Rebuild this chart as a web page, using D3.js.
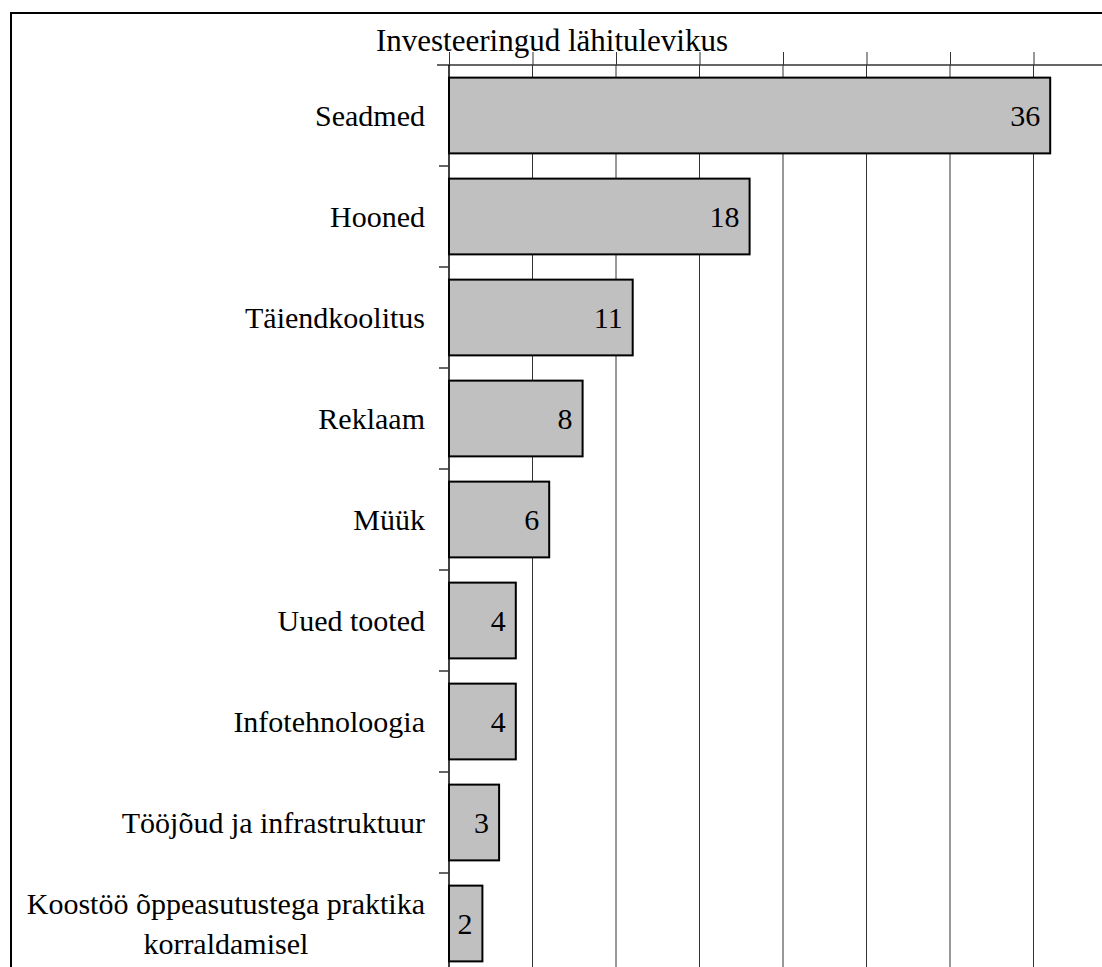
<!DOCTYPE html>
<html>
<head>
<meta charset="utf-8">
<script src="https://cdn.jsdelivr.net/npm/d3@7"></script>
<style>
  body { margin: 0; background: #fff; }
  svg { display: block; }
  svg text { font-family: 'Liberation Serif', Tinos, 'Times New Roman', 'DejaVu Serif', serif; fill: #000; }
</style>
</head>
<body>
<div id="chart"></div>
<script>
const categories = ["Seadmed", "Hooned", "Täiendkoolitus", "Reklaam", "Müük", "Uued tooted",
                    "Infotehnoloogia", "Tööjõud ja infrastruktuur",
                    "Koostöö õppeasutustega praktika|korraldamisel"];
const values = [36, 18, 11, 8, 6, 4, 4, 3, 2];
const tickValues = [0, 5, 10, 15, 20, 25, 30, 35, 40];
const chartTitle = "Investeeringud lähitulevikus";

const width = 1102;
const height = 967;
const margin = { top: 65, right: -15, bottom: -7, left: 449 };
const fontFamily = "'Liberation Serif', Tinos, 'Times New Roman', 'DejaVu Serif', serif";

const svg = d3.select("#chart")
  .append("svg")
  .attr("width", width)
  .attr("height", height)
  .style("font-family", fontFamily);

// outer frame, cut off at right and bottom like the original
svg.append("rect")
  .attr("x", 11)
  .attr("y", 13)
  .attr("width", width + 20)
  .attr("height", height + 20)
  .attr("fill", "none")
  .attr("stroke", "#000")
  .attr("stroke-width", 2);

const xScale = d3.scaleLinear()
  .domain([0, 40])
  .range([margin.left, width - margin.right]);

const yScale = d3.scaleBand()
  .domain(categories)
  .range([margin.top, height - margin.bottom])
  .paddingInner(0.25)
  .paddingOuter(0.125);

const step = yScale.step();
const gap = (step - yScale.bandwidth()) / 2;

// vertical gridlines
svg.selectAll(".grid")
  .data(tickValues.slice(1))
  .enter()
  .append("line")
  .attr("class", "grid")
  .attr("x1", d => xScale(d))
  .attr("x2", d => xScale(d))
  .attr("y1", margin.top)
  .attr("y2", height)
  .attr("stroke", "#333")
  .attr("stroke-width", 1);

// value axis on top, ticks only
svg.append("g")
  .attr("transform", `translate(0,${margin.top})`)
  .call(d3.axisTop(xScale).tickValues(tickValues).tickSize(13).tickFormat(""))
  .call(g => g.select(".domain").remove())
  .selectAll("line")
  .attr("stroke", "#333");

svg.append("line")
  .attr("x1", margin.left - 12)
  .attr("x2", width)
  .attr("y1", margin.top)
  .attr("y2", margin.top)
  .attr("stroke", "#333")
  .attr("stroke-width", 1.5);

// category axis
svg.append("line")
  .attr("x1", margin.left)
  .attr("x2", margin.left)
  .attr("y1", margin.top)
  .attr("y2", height)
  .attr("stroke", "#000")
  .attr("stroke-width", 1.5);

svg.selectAll(".ytick")
  .data(categories)
  .enter()
  .append("line")
  .attr("class", "ytick")
  .attr("x1", margin.left - 10)
  .attr("x2", margin.left)
  .attr("y1", d => yScale(d) - gap + step)
  .attr("y2", d => yScale(d) - gap + step)
  .attr("stroke", "#333")
  .attr("stroke-width", 1.5);

svg.selectAll(".bar")
  .data(values)
  .enter()
  .append("rect")
  .attr("class", "bar")
  .attr("x", xScale(0))
  .attr("y", (d, i) => yScale(categories[i]))
  .attr("width", d => xScale(d) - xScale(0))
  .attr("height", yScale.bandwidth())
  .attr("fill", "#c0c0c0")
  .attr("stroke", "#000")
  .attr("stroke-width", 2);

svg.selectAll(".value")
  .data(values)
  .enter()
  .append("text")
  .attr("class", "value")
  .attr("x", d => xScale(d) - 10)
  .attr("y", (d, i) => yScale(categories[i]) + yScale.bandwidth() / 2)
  .attr("dy", "0.35em")
  .style("text-anchor", "end")
  .style("font-size", "30px")
  .text(d => d);

// category labels, the long one wraps to two centred lines
const labels = svg.selectAll(".label")
  .data(categories)
  .enter()
  .append("text")
  .attr("class", "label")
  .style("font-size", "30px")
  .attr("y", d => yScale(d) + yScale.bandwidth() / 2);

labels.each(function(d) {
  const lines = d.split("|");
  const t = d3.select(this);
  if (lines.length === 1) {
    t.attr("x", margin.left - 24)
      .attr("dy", "0.35em")
      .style("text-anchor", "end")
      .text(d);
  } else {
    t.style("text-anchor", "middle");
    const probe = t.append("tspan").text(lines[0]);
    const w = probe.node().getComputedTextLength();
    probe.remove();
    const cx = margin.left - 24 - w / 2;
    lines.forEach((line, k) => {
      t.append("tspan")
        .attr("x", cx)
        .attr("y", yScale(d) + yScale.bandwidth() / 2 + (k - (lines.length - 1) / 2) * 40)
        .attr("dy", "0.35em")
        .text(line);
    });
  }
});

svg.append("text")
  .attr("x", 552)
  .attr("y", 51)
  .style("text-anchor", "middle")
  .style("font-size", "31px")
  .text(chartTitle);
</script>
</body>
</html>
